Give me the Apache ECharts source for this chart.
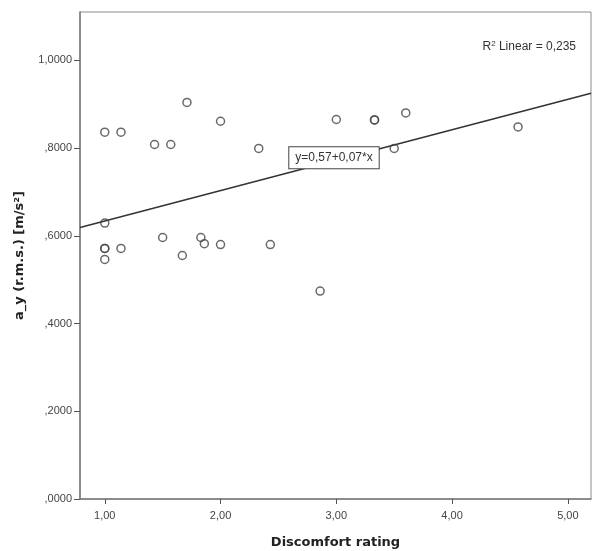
<!DOCTYPE html>
<html>
<head>
<meta charset="utf-8">
<script src="https://cdn.jsdelivr.net/npm/echarts@6/dist/echarts.min.js"></script>
<style>
  html, body { margin: 0; padding: 0; background: #fff; }
  #chart { width: 592px; height: 551px; }
</style>
</head>
<body>
<div id="chart"></div>
<script>
// values
const discomfort = [1.00, 1.14, 1.43, 1.57, 1.71, 2.00, 2.33, 1.00, 1.00, 1.00, 1.00, 1.14, 1.50,
  1.67, 1.83, 1.86, 2.00, 2.43, 2.86, 3.00, 3.33, 3.33, 3.60, 4.57, 3.50];
const ayRms = [0.836, 0.836, 0.808, 0.808, 0.904, 0.861, 0.799, 0.629, 0.571, 0.571, 0.546, 0.571, 0.596,
  0.555, 0.596, 0.582, 0.580, 0.580, 0.474, 0.865, 0.864, 0.864, 0.880, 0.848, 0.799];

const xTicks = [1, 2, 3, 4, 5];
const yTicks = [0, 0.2, 0.4, 0.6, 0.8, 1.0];

// fit line as drawn (y = 0,57 + 0,07*x)
const fitIntercept = 0.5645;
const fitSlope = 0.0693;
const fitLabel = 'y=0,57+0,07*x';
const fitLabelAt = [2.98, 0.778];
const r2Text = '0,235';

const xMin = 0.786, xMax = 5.2;
const yMin = 0, yMax = 1.11;

const points = discomfort.map((d, i) => [d, ayRms[i]]);
const fitLine = [xMin, xMax].map(x => [x, fitIntercept + fitSlope * x]);

const fmtX = v => v.toFixed(2).replace('.', ',');
const fmtY = v => v.toFixed(4).replace('.', ',').replace(/^0,/, ',');

const chart = echarts.init(document.getElementById('chart'));
chart.setOption({
  animation: false,
  backgroundColor: '#fff',
  textStyle: { fontFamily: 'Liberation Sans' },
  grid: {
    left: 80, right: 1, top: 12, bottom: 52,
    outerBoundsMode: 'none', containLabel: false,
    show: true, borderColor: '#8a8a8a', borderWidth: 1
  },
  xAxis: {
    type: 'value', min: xMin, max: xMax,
    name: 'Discomfort rating', nameLocation: 'middle', nameGap: 37,
    nameTextStyle: { fontFamily: 'DejaVu Sans', fontWeight: 'bold', fontSize: 13, color: '#222' },
    axisLine: { show: true, lineStyle: { color: '#7a7a7a', width: 1.5 } },
    axisTick: { show: true, length: 5, customValues: xTicks, lineStyle: { color: '#555' } },
    axisLabel: { customValues: xTicks, formatter: fmtX, fontSize: 11, color: '#444', margin: 11 },
    splitLine: { show: false }
  },
  yAxis: {
    type: 'value', min: yMin, max: yMax,
    name: 'a_y (r.m.s.) [m/s²]', nameLocation: 'middle', nameGap: 54, nameRotate: 90,
    nameTextStyle: { fontFamily: 'DejaVu Sans', fontWeight: 'bold', fontSize: 13, color: '#222' },
    axisLine: { show: true, lineStyle: { color: '#7a7a7a', width: 1.5 } },
    axisTick: { show: true, length: 6, customValues: yTicks, lineStyle: { color: '#555' } },
    axisLabel: { customValues: yTicks, formatter: fmtY, fontSize: 11, color: '#444', margin: 8 },
    splitLine: { show: false }
  },
  series: [
    {
      type: 'line',
      data: fitLine,
      symbol: 'none',
      lineStyle: { color: '#333', width: 1.5 },
      z: 1
    },
    {
      type: 'scatter',
      data: points,
      symbol: 'circle',
      symbolSize: 8,
      itemStyle: { color: 'rgba(255,255,255,0)', borderColor: '#444', borderWidth: 1.5 },
      z: 3
    }
  ],
  graphic: [{
    type: 'text', right: 16, top: 40,
    style: {
      text: '{n|R}{s|2}{n| Linear = ' + r2Text + '}',
      rich: {
        n: { fontSize: 12, fontFamily: 'Liberation Sans', fill: '#333' },
        s: { fontSize: 8, fontFamily: 'Liberation Sans', fill: '#333', verticalAlign: 'top', padding: [0, 0, 6, 0] }
      }
    }
  }]
});

// equation box placed on the fit line through the chart's own scales
const labelPos = chart.convertToPixel({ gridIndex: 0 }, fitLabelAt);
chart.setOption({
  graphic: [{}, {
    type: 'text', x: labelPos[0], y: labelPos[1], z: 100,
    style: {
      text: fitLabel, align: 'center', verticalAlign: 'middle',
      fontSize: 12, fontFamily: 'Liberation Sans', fill: '#333',
      backgroundColor: '#fff', borderColor: '#444', borderWidth: 1,
      padding: [5, 6, 4, 6]
    }
  }]
});
</script>
</body>
</html>
